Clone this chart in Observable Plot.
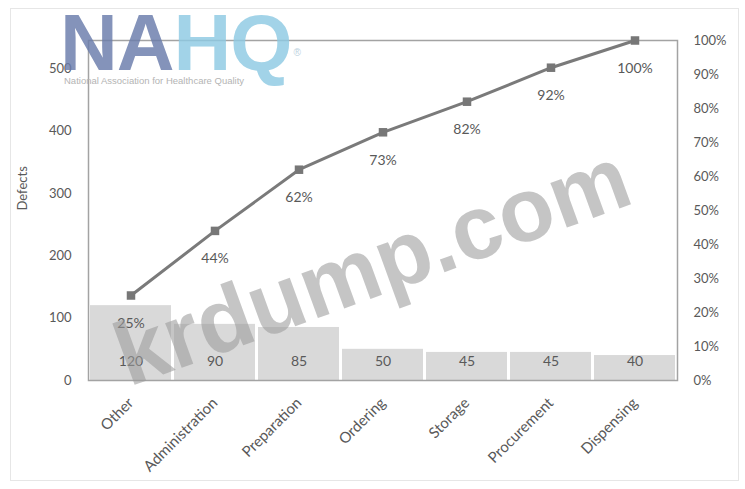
<!DOCTYPE html>
<html>
<head>
<meta charset="utf-8">
<script src="https://cdn.jsdelivr.net/npm/d3@7"></script>
<script src="https://cdn.jsdelivr.net/npm/@observablehq/plot@0.6"></script>
<style>
  body { margin: 0; background: #fff; }
  #wrap { position: relative; width: 745px; height: 489px; overflow: hidden; font-family: Lato, "Open Sans", sans-serif; }
  #border { position: absolute; left: 10px; top: 8px; width: 727px; height: 471px; border: 1px solid #e6e6e6; pointer-events: none; }
  #logo { position: absolute; left: 60px; top: 3px; font-family: "Liberation Sans", Arial, sans-serif; font-weight: bold; font-size: 80px; line-height: 80px; letter-spacing: -1px; opacity: 0.82; white-space: nowrap; }
  #logo .na { color: #6a7cab; }
  #logo .hq { color: #8ecae3; }
  #logo sup { font-size: 10px; font-weight: normal; color: #b0c8d8; vertical-align: top; position: relative; top: 10px; left: 2px; }
  #logosub { position: absolute; left: 64px; top: 75px; font-family: "Liberation Sans", Arial, sans-serif; font-size: 9.5px; color: #b4b4b4; white-space: nowrap; }
  #wm { position: absolute; left: 372px; top: 266px; transform: translate(-50%, -50%) rotate(-20deg); font-family: "Liberation Sans", Arial, sans-serif; font-weight: bold; font-size: 90px; color: rgba(155,155,155,0.58); white-space: nowrap; pointer-events: none; }
</style>
</head>
<body>
<div id="wrap"></div>
<script>
// ---- data ----
const categories = ["Other", "Administration", "Preparation", "Ordering", "Storage", "Procurement", "Dispensing"];
const defects = [120, 90, 85, 50, 45, 45, 40];
const cumulativePct = [25, 44, 62, 73, 82, 92, 100];
const leftTicks = [0, 100, 200, 300, 400, 500];
const rightTicks = [0, 10, 20, 30, 40, 50, 60, 70, 80, 90, 100];
const yMax = 545; // left axis top (Defects)

const rows = categories.map((c, i) => ({
  category: c,
  defects: defects[i],
  pct: cumulativePct[i],
  pctOnLeft: cumulativePct[i] / 100 * yMax
}));

const textColor = "#595959";

const chart = Plot.plot({
  width: 745,
  height: 489,
  marginLeft: 88,
  marginRight: 68,
  marginTop: 40,
  marginBottom: 109,
  style: { fontFamily: "Lato, 'Open Sans', sans-serif", background: "transparent" },
  x: { type: "band", domain: categories, paddingInner: 0.03, paddingOuter: 0, label: null },
  y: { domain: [0, yMax], label: null },
  marks: [
    Plot.barY(rows, { x: "category", y: "defects", fill: "#d9d9d9" }),
    Plot.frame({ stroke: "#a3a3a3", strokeWidth: 1.5 }),
    Plot.text(rows, { x: "category", y: 0, text: d => String(d.defects), dy: -19, fontSize: 14, fill: textColor }),
    Plot.line(rows, { x: "category", y: "pctOnLeft", stroke: "#7a7a7a", strokeWidth: 3 }),
    Plot.dot(rows, { x: "category", y: "pctOnLeft", symbol: "square", r: 4.8, fill: "#777", stroke: "none" }),
    Plot.text(rows, { x: "category", y: "pctOnLeft", text: d => d.pct + "%", dy: 28, fontSize: 14, fill: textColor }),
    Plot.axisY({ ticks: leftTicks, tickSize: 0, tickPadding: 17, fontSize: 13, fill: textColor, label: null }),
    Plot.axisY({ anchor: "right", ticks: rightTicks.map(t => t / 100 * yMax), tickFormat: d => Math.round(d / yMax * 100) + "%", tickSize: 0, tickPadding: 16, fontSize: 13, fill: textColor, label: null }),
    Plot.axisX({ tickRotate: -45, tickSize: 0, tickPadding: 20, fontSize: 15, fill: textColor, label: null, style: { letterSpacing: "0.6px" } }),
    Plot.text(["Defects"], { frameAnchor: "left", dx: -66, rotate: -90, text: d => d, fontSize: 13, fill: textColor })
  ]
});

const wrap = document.getElementById("wrap");
wrap.appendChild(chart);

const border = document.createElement("div");
border.id = "border";
wrap.appendChild(border);

const logo = document.createElement("div");
logo.id = "logo";
logo.innerHTML = '<span class="na">NA</span><span class="hq">HQ</span><sup>®</sup>';
wrap.appendChild(logo);

const logoSub = document.createElement("div");
logoSub.id = "logosub";
logoSub.textContent = "National Association for Healthcare Quality";
wrap.appendChild(logoSub);

const wm = document.createElement("div");
wm.id = "wm";
wm.textContent = "krdump.com";
wrap.appendChild(wm);
</script>
</body>
</html>
